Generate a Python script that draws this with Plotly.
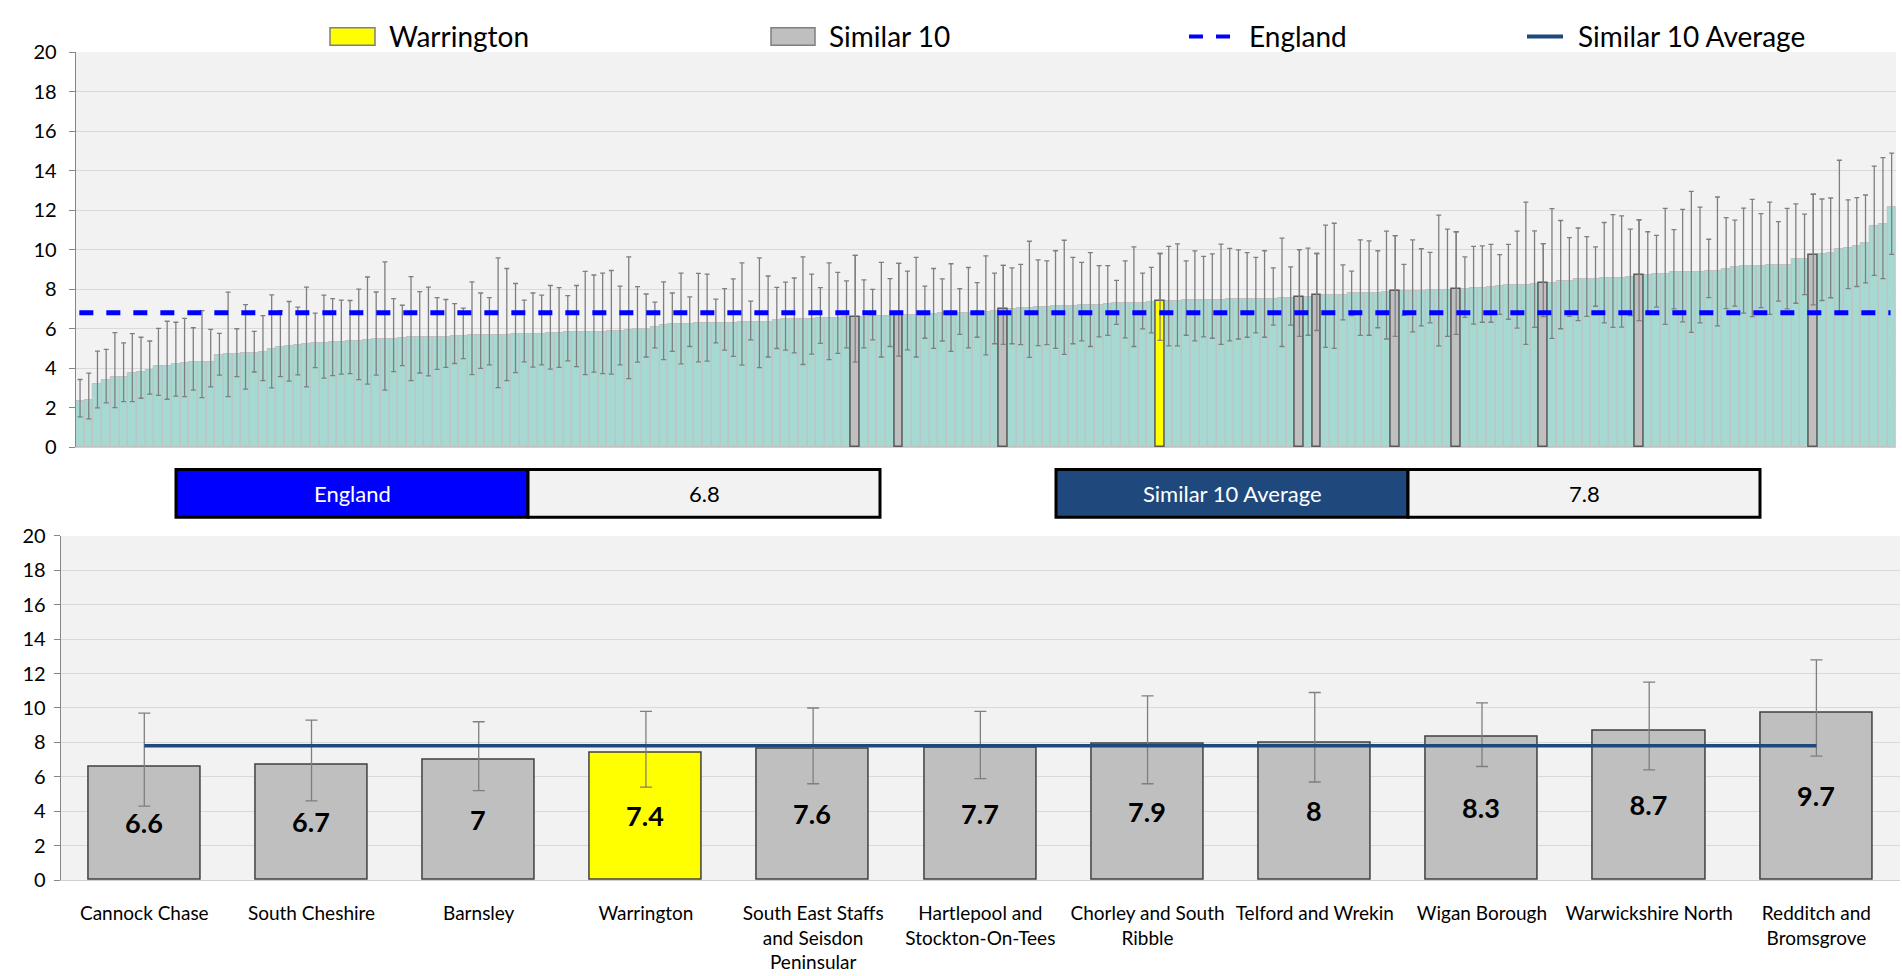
import plotly.graph_objects as go

# ---------------- data ----------------
england_value = 6.8
similar_avg = 7.8

national_values = [
    2.35, 2.39, 3.19, 3.41, 3.54, 3.57, 3.75, 3.8, 3.88, 4.08,
    4.08, 4.2, 4.25, 4.3, 4.33, 4.33, 4.66, 4.69, 4.69, 4.76,
    4.76, 4.81, 4.97, 5.07, 5.12, 5.19, 5.2, 5.27, 5.28, 5.32,
    5.33, 5.35, 5.38, 5.43, 5.45, 5.47, 5.47, 5.5, 5.56, 5.56,
    5.56, 5.58, 5.58, 5.6, 5.63, 5.65, 5.65, 5.65, 5.66, 5.68,
    5.7, 5.71,
    5.71, 5.74, 5.78, 5.79, 5.8, 5.81, 5.82, 5.83, 5.84, 5.86,
    5.9, 5.95, 5.97, 5.98, 6.1, 6.2, 6.21, 6.23, 6.25, 6.27,
    6.29, 6.29, 6.3, 6.3, 6.31, 6.32, 6.33, 6.34, 6.45, 6.46,
    6.47, 6.48, 6.5, 6.52, 6.53, 6.55, 6.56, 6.6, 6.6, 6.61,
    6.63, 6.65, 6.7, 6.7, 6.7, 6.71, 6.72, 6.78, 6.79, 6.8,
    6.8, 6.81, 6.82,
    6.88, 7.0, 7.0, 7.02, 7.04, 7.07, 7.08, 7.12, 7.15, 7.16,
    7.17, 7.18, 7.2, 7.25, 7.27, 7.28, 7.29, 7.3, 7.32, 7.4,
    7.4, 7.41, 7.42, 7.43, 7.44, 7.45, 7.46, 7.47, 7.48, 7.5,
    7.5, 7.51, 7.52, 7.53, 7.55, 7.6, 7.62, 7.7, 7.7, 7.71,
    7.72, 7.78, 7.79, 7.8, 7.81, 7.83, 7.9, 7.9, 7.91, 7.92,
    7.93, 7.94, 7.95,
    8.0, 8.02, 8.03, 8.07, 8.12, 8.13, 8.2, 8.21, 8.22, 8.23,
    8.3, 8.3, 8.4, 8.41, 8.5, 8.5, 8.52, 8.54, 8.55, 8.56,
    8.6, 8.7, 8.7, 8.75, 8.77, 8.84, 8.84, 8.85, 8.86, 8.92,
    8.93, 8.99, 9.09, 9.17, 9.17, 9.18, 9.2, 9.23, 9.24, 9.51,
    9.52, 9.7, 9.75, 9.82, 10.04, 10.06, 10.19, 10.34, 11.19, 11.28,
    12.13,
]

national_upper = [
    3.42, 3.74, 4.86, 4.95, 5.79, 5.27, 5.74, 5.56, 5.37, 6.01,
    6.37, 6.32, 6.52, 6.04, 6.91, 5.96, 5.76, 7.84, 5.99, 7.21,
    5.86, 6.65, 7.7, 6.9, 7.37, 7.08, 8.1, 6.78, 7.69, 7.51,
    7.44, 7.42, 8.0, 8.61, 7.85, 9.38, 7.52, 7.18, 8.63, 7.87,
    8.1, 7.57, 7.47, 7.26, 7.03, 8.36, 7.8, 7.57, 9.58, 9.04,
    8.28, 7.44,
    7.8, 7.69, 8.18, 8.07, 7.67, 8.18, 8.89, 8.71, 8.81, 8.94,
    8.15, 9.63, 8.12, 7.75, 7.34, 8.36, 7.8, 8.81, 7.6, 8.79,
    8.76, 7.49, 8.02, 8.51, 9.32, 7.39, 9.58, 8.66, 8.08, 8.35,
    8.56, 9.63, 8.76, 8.07, 9.32, 8.84, 8.41, 9.7, 8.46, 7.98,
    9.35, 8.53, 9.3, 8.91, 9.6, 8.15, 9.04, 8.51, 9.28, 8.02,
    9.09, 8.33, 9.68,
    8.81, 9.2, 9.07, 9.25, 10.42, 9.48, 9.43, 9.94, 10.47, 9.6,
    9.35, 9.84, 9.19, 9.19, 8.44, 9.43, 10.14, 8.81, 9.1, 9.8,
    10.16, 10.29, 9.43, 9.93, 9.65, 9.78, 10.27, 10.06, 9.98, 9.84,
    9.6, 9.94, 9.07, 10.58, 9.12, 10.0, 10.07, 9.8, 11.24, 11.33,
    9.22, 8.91, 10.49, 10.44, 9.94, 10.93, 10.7, 9.25, 10.49, 10.04,
    9.86, 11.74, 11.03,
    10.9, 9.63, 10.16, 10.19, 10.26, 9.74, 10.26, 10.93, 12.4, 10.95,
    10.3, 12.07, 11.47, 10.6, 11.09, 10.65, 10.14, 11.37, 11.77, 11.7,
    11.03, 11.5, 10.9, 10.72, 12.08, 11.01, 12.03, 12.94, 12.15, 10.52,
    12.66, 11.62, 11.49, 12.1, 12.54, 11.82, 12.4, 11.41, 12.08, 12.31,
    11.79, 12.8, 12.56, 12.61, 14.52, 12.51, 12.63, 12.76, 14.22, 14.65,
    14.88,
]

national_lower = [
    1.53, 1.43, 1.98, 2.24, 2.0, 2.3, 2.3, 2.47, 2.68, 2.62,
    2.42, 2.58, 2.55, 2.88, 2.5, 3.05, 3.64, 2.55, 3.57, 2.93,
    3.8, 3.36, 3.0, 3.57, 3.34, 3.65, 3.05, 4.02, 3.49, 3.62,
    3.69, 3.72, 3.41, 3.19, 3.64, 2.88, 3.82, 4.12, 3.36, 3.75,
    3.6, 3.93, 4.03, 4.23, 4.48, 3.67, 3.98, 4.16, 3.01, 3.36,
    3.77, 4.31,
    4.05, 4.16, 3.95, 4.03, 4.36, 4.07, 3.67, 3.79, 3.72, 3.69,
    4.16, 3.46, 4.3, 4.56, 5.02, 4.43, 4.84, 4.21, 5.09, 4.31,
    4.35, 5.27, 4.91, 4.59, 4.15, 5.43, 4.02, 4.56, 4.99, 4.91,
    4.77, 4.18, 4.71, 5.25, 4.43, 4.74, 5.02, 4.3, 5.02, 5.43,
    4.56, 5.09, 4.7, 4.92, 4.56, 5.51, 5.0, 5.37, 4.84, 5.71,
    5.02, 5.56, 4.67,
    5.23, 5.2, 5.23, 5.19, 4.54, 5.14, 5.19, 5.0, 4.69, 5.23,
    5.38, 5.09, 5.58, 5.65, 6.21, 5.53, 5.09, 5.98, 5.78, 5.4,
    5.12, 5.12, 5.66, 5.38, 5.58, 5.51, 5.2, 5.38, 5.47, 5.56,
    5.78, 5.56, 6.17, 5.09, 6.17, 5.6, 5.66, 5.9, 5.05, 5.0,
    6.44, 6.65, 5.65, 5.66, 6.04, 5.47, 5.6, 6.67, 5.83, 6.14,
    6.29, 5.12, 5.6,
    5.7, 6.57, 6.22, 6.32, 6.32, 6.72, 6.47, 6.02, 5.2, 6.06,
    6.6, 5.5, 5.99, 6.62, 6.4, 6.62, 7.13, 6.29, 6.06, 6.07,
    6.65, 6.4, 6.78, 7.08, 6.21, 7.0, 6.34, 5.81, 6.29, 7.57,
    6.14, 7.01, 7.14, 6.78, 6.6, 7.06, 6.72, 7.39, 7.0, 7.28,
    7.72, 7.2, 7.42, 7.56, 6.75, 8.02, 8.13, 8.31, 8.69, 8.53,
    9.76,
]

similar_names = ["Cannock Chase", "South Cheshire", "Barnsley", "Warrington",
                 "South East Staffs and Seisdon Peninsular",
                 "Hartlepool and Stockton-On-Tees", "Chorley and South Ribble",
                 "Telford and Wrekin", "Wigan Borough", "Warwickshire North",
                 "Redditch and Bromsgrove"]
similar_labels = ["Cannock Chase", "South Cheshire", "Barnsley", "Warrington",
                  "South East Staffs<br>and Seisdon<br>Peninsular",
                  "Hartlepool and<br>Stockton-On-Tees", "Chorley and South<br>Ribble",
                  "Telford and Wrekin", "Wigan Borough", "Warwickshire North",
                  "Redditch and<br>Bromsgrove"]
similar_values = [6.6, 6.7, 7.0, 7.4, 7.6, 7.7, 7.9, 8.0, 8.3, 8.7, 9.7]
similar_lower = [4.3, 4.6, 5.2, 5.4, 5.6, 5.9, 5.6, 5.7, 6.6, 6.4, 7.2]
similar_upper = [9.7, 9.3, 9.2, 9.8, 10.0, 9.8, 10.7, 10.9, 10.3, 11.5, 12.8]
similar_rank = [89, 94, 106, 124, 140, 142, 151, 158, 168, 179, 199]
focus_area = "Warrington"

# ---------------- styling ----------------
W, H = 1902, 976
FONT = "Lato"
TEAL = "#A7D9D3"
GREY = "#BFBFBF"
YELLOW = "#FFFF00"
NAVY = "#1F497D"
BLUE = "#0000FF"
BG = "#F2F2F2"


def fx(p):
    return p / W


def fy(p):
    return 1 - p / H


fig = go.Figure()

# ---- top chart: all areas ----
nat_x = list(range(len(national_values)))
fig.add_trace(go.Bar(
    x=nat_x, y=national_values, width=1,
    marker=dict(color=TEAL, line=dict(color="#C0C0C0", width=1)),
    error_y=dict(type="data", symmetric=False,
                 array=[u - v for u, v in zip(national_upper, national_values)],
                 arrayminus=[v - l for v, l in zip(national_values, national_lower)],
                 color="#7F7F7F", thickness=1.3, width=2.5),
    xaxis="x", yaxis="y", showlegend=False, hoverinfo="skip"))

hl_colors = [YELLOW if n == focus_area else GREY for n in similar_names]
fig.add_trace(go.Bar(
    x=similar_rank, y=similar_values, width=1.0,
    marker=dict(color=hl_colors, line=dict(color="#595959", width=1.5)),
    error_y=dict(type="data", symmetric=False,
                 array=[u - v for u, v in zip(similar_upper, similar_values)],
                 arrayminus=[v - l for v, l in zip(similar_values, similar_lower)],
                 color="#7F7F7F", thickness=1.3, width=2.5),
    xaxis="x", yaxis="y", showlegend=False, hoverinfo="skip"))

fig.add_shape(type="line", xref="x domain", yref="y", x0=0.002, x1=0.997,
              y0=england_value, y1=england_value,
              line=dict(color=BLUE, width=5, dash="14px,13px"))

# ---- bottom chart: similar 10 ----
fig.add_trace(go.Bar(
    x=similar_labels, y=similar_values, width=0.67,
    marker=dict(color=hl_colors, line=dict(color="#404040", width=1.5)),
    error_y=dict(type="data", symmetric=False,
                 array=[u - v for u, v in zip(similar_upper, similar_values)],
                 arrayminus=[v - l for v, l in zip(similar_values, similar_lower)],
                 color="#7F7F7F", thickness=1.3, width=6),
    texttemplate="<b>%{y}</b>", textposition="inside", insidetextanchor="middle",
    textangle=0, constraintext="none",
    insidetextfont=dict(family=FONT, size=27, color="black"),
    xaxis="x2", yaxis="y2", showlegend=False, hoverinfo="skip"))

fig.add_trace(go.Scatter(
    x=[similar_labels[0], similar_labels[-1]], y=[similar_avg, similar_avg],
    mode="lines", line=dict(color=NAVY, width=3.5),
    xaxis="x2", yaxis="y2", showlegend=False, hoverinfo="skip"))

# ---------------- axes ----------------
yaxis_common = dict(range=[0, 20], dtick=2, showgrid=True, gridcolor="#D9D9D9", gridwidth=1,
                    showline=True, linecolor="#868686", linewidth=1,
                    ticks="outside", ticklen=6, tickcolor="#868686",
                    tickfont=dict(family=FONT, size=20, color="black"),
                    zeroline=False, fixedrange=True)

fig.update_layout(
    width=W, height=H, autosize=False,
    margin=dict(l=0, r=0, t=0, b=0),
    paper_bgcolor="white", plot_bgcolor=BG,
    barmode="overlay", bargap=0,
    font=dict(family=FONT, color="black"),
    xaxis=dict(domain=[fx(75.7), fx(1896)], range=[-0.5, len(national_values) - 0.5],
               showticklabels=False, showgrid=False, zeroline=False,
               showline=True, linecolor="#D0D0D0", ticks="", anchor="y"),
    yaxis=dict(domain=[fy(445), fy(40)], anchor="x", ticklabelstandoff=8, **yaxis_common),
    xaxis2=dict(domain=[fx(60.7), fx(1900)], showgrid=False, zeroline=False,
                showline=True, linecolor="#D0D0D0", ticks="", anchor="y2",
                tickfont=dict(family=FONT, size=19, color="black"),
                ticklabelstandoff=16),
    yaxis2=dict(domain=[fy(889), fy(536)], anchor="x2", ticklabelstandoff=4, **yaxis_common),
)

# ---------------- legend (drawn) ----------------
ly = 24
fig.add_shape(type="rect", xref="paper", yref="paper", x0=fx(330), x1=fx(375),
              y0=fy(33), y1=fy(15), fillcolor=YELLOW, line=dict(color="#7F7F7F", width=1.5))
fig.add_shape(type="rect", xref="paper", yref="paper", x0=fx(771), x1=fx(815),
              y0=fy(33), y1=fy(15), fillcolor=GREY, line=dict(color="#7F7F7F", width=1.5))
fig.add_shape(type="line", xref="paper", yref="paper", x0=fx(1189), x1=fx(1231),
              y0=fy(ly), y1=fy(ly), line=dict(color=BLUE, width=4, dash="14px,13px"))
fig.add_shape(type="line", xref="paper", yref="paper", x0=fx(1527), x1=fx(1563),
              y0=fy(ly), y1=fy(ly), line=dict(color=NAVY, width=4))
for txt, x0 in [(focus_area, 387), ("Similar 10", 827), ("England", 1247), ("Similar 10 Average", 1576)]:
    fig.add_annotation(x=fx(x0), y=fy(ly), xref="paper", yref="paper", text=txt,
                       showarrow=False, xanchor="left", yanchor="middle",
                       font=dict(family=FONT, size=28, color="black"))

# ---------------- summary boxes ----------------
def box(x0, xm, x1, label, value, color):
    fig.add_shape(type="rect", xref="paper", yref="paper", x0=fx(x0), x1=fx(xm),
                  y0=fy(517), y1=fy(468), fillcolor=color, line=dict(color="black", width=3))
    fig.add_shape(type="rect", xref="paper", yref="paper", x0=fx(xm), x1=fx(x1),
                  y0=fy(517), y1=fy(468), fillcolor=BG, line=dict(color="black", width=3))
    fig.add_annotation(x=fx((x0 + xm) / 2), y=fy(492.5), xref="paper", yref="paper", text=label,
                       showarrow=False, xanchor="center", yanchor="middle",
                       font=dict(family=FONT, size=22, color="white"))
    fig.add_annotation(x=fx((xm + x1) / 2), y=fy(492.5), xref="paper", yref="paper", text=f"{value:g}",
                       showarrow=False, xanchor="center", yanchor="middle",
                       font=dict(family=FONT, size=22, color="black"))


box(176, 528, 880, "England", england_value, BLUE)
box(1056, 1408, 1760, "Similar 10 Average", similar_avg, NAVY)

fig.write_html("out.html", config={"displayModeBar": False},
               post_script="document.body.style.margin='0px';")
